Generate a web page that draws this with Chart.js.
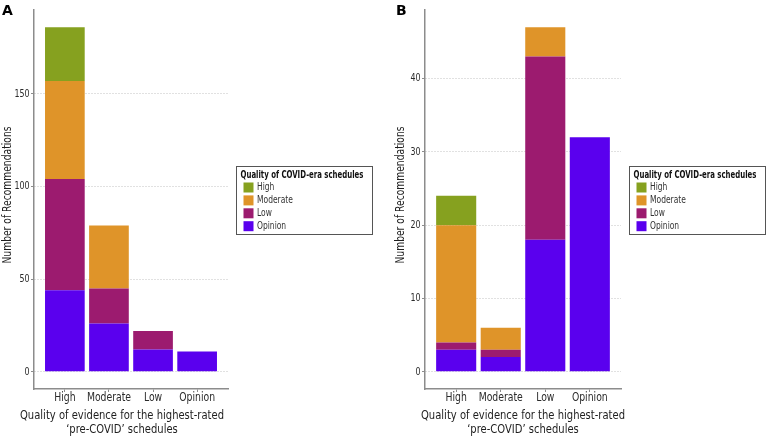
<!DOCTYPE html>
<html lang="en">
<head>
<meta charset="UTF-8" />
<title>Recommendations by quality of evidence</title>
<script src="https://cdn.jsdelivr.net/npm/chart.js"></script>
<style>
    html, body { margin: 0; padding: 0; background: #fff; }
    body { width: 767px; height: 438px; position: relative; overflow: hidden;
           font-family: 'DejaVu Sans Condensed', 'DejaVu Sans', sans-serif; }
    .panel { position: absolute; top: 0; width: 384px; height: 438px; }
    .tag { position: absolute; top: 2px; line-height: 14px; font: bold 14px 'DejaVu Sans', sans-serif; color: #000; }
</style>
</head>
<body>
<div class="panel" style="left:0"><canvas id="chartA" width="384" height="438"></canvas></div>
<div class="panel" style="left:383px"><canvas id="chartB" width="384" height="438"></canvas></div>
<span class="tag" style="left:2px">A</span>
<span class="tag" style="left:396px">B</span>
<script>
// pre-COVID evidence categories (x axis)
const categories = ['High', 'Moderate', 'Low', 'Opinion'];
// COVID-era quality, stacked bottom -> top
const seriesNames = ['Opinion', 'Low', 'Moderate', 'High'];
const seriesColors = ['#5a00ee', '#9c1b6f', '#df9429', '#86a11f'];

// panel A
const aOpinion  = [44, 26, 12, 11];
const aLow      = [60, 19, 10, 0];
const aModerate = [53, 34, 0, 0];
const aHigh     = [29, 0, 0, 0];
const aTicks    = [0, 50, 100, 150];

// panel B
const bOpinion  = [3, 2, 18, 32];
const bLow      = [1, 1, 25, 0];
const bModerate = [16, 3, 4, 0];
const bHigh     = [4, 0, 0, 0];
const bTicks    = [0, 10, 20, 30, 40];

const xTitle = ['Quality of evidence for the highest-rated', '\u2018pre-COVID\u2019 schedules'];
const yTitle = 'Number of Recommendations';
const legendTitle = 'Quality of COVID-era schedules';

const FONT = "'DejaVu Sans Condensed', 'DejaVu Sans', sans-serif";

// the source font is a narrow one, so squeeze text horizontally
function squeezed(ctx, text, x, y, k, rot) {
    ctx.save();
    ctx.translate(x, y);
    ctx.rotate(rot);
    ctx.scale(k, 1);
    ctx.fillText(text, 0, 0);
    ctx.restore();
}

// tick labels, placed with the chart's own scales
const tickLabels = {
    id: 'tickLabels',
    afterDraw(chart) {
        const { ctx } = chart;
        const { x, y } = chart.scales;
        ctx.save();
        ctx.fillStyle = '#2b2b2b';
        ctx.font = '12px ' + FONT;
        ctx.textAlign = 'center';
        ctx.textBaseline = 'alphabetic';
        x.ticks.forEach(t => squeezed(ctx, categories[t.value - 1], x.getPixelForValue(t.value), x.top + 11.5, 0.86, 0));
        ctx.font = '11px ' + FONT;
        ctx.textAlign = 'right';
        ctx.textBaseline = 'middle';
        y.ticks.forEach(t => squeezed(ctx, String(t.value), y.right - 4.5, y.getPixelForValue(t.value), 0.8, 0));
        ctx.restore();
    }
};

const axisTitles = {
    id: 'axisTitles',
    afterDraw(chart, args, opts) {
        const { ctx, chartArea } = chart;
        ctx.save();
        ctx.fillStyle = '#1e1e1e';
        ctx.textAlign = 'center';
        ctx.textBaseline = 'middle';
        ctx.font = '13px ' + FONT;
        let k = Math.min(1, 204 / ctx.measureText(xTitle[0]).width);
        const cx = (chartArea.left + chartArea.right) / 2 + opts.xShift;
        xTitle.forEach((line, i) => squeezed(ctx, line, cx, 416 + i * 14, k, 0));
        k = Math.min(1, 137 / ctx.measureText(yTitle).width);
        squeezed(ctx, yTitle, opts.yTitleX, (chartArea.top + chartArea.bottom) / 2 - 4.5, k, -Math.PI / 2);
        ctx.restore();
    }
};

// boxed legend to the right of the plot, like ggplot
const boxLegend = {
    id: 'boxLegend',
    afterDraw(chart) {
        const { ctx, chartArea } = chart;
        const w = 136, h = 68;
        const x = Math.round(chartArea.right + 8) + 0.5;
        const y = Math.round((chartArea.top + chartArea.bottom) / 2 - h / 2) + 0.5;
        ctx.save();
        ctx.strokeStyle = '#555';
        ctx.lineWidth = 1;
        ctx.strokeRect(x, y, w, h);
        ctx.fillStyle = '#111';
        ctx.textBaseline = 'middle';
        ctx.font = 'bold 11px ' + FONT;
        const k = Math.min(1, 123 / ctx.measureText(legendTitle).width);
        squeezed(ctx, legendTitle, x + 4, y + 8.5, k, 0);
        ctx.font = '10.5px ' + FONT;
        const ds = chart.data.datasets.slice().reverse();
        ds.forEach((d, i) => {
            const cy = y + 21 + i * 12.9;
            ctx.fillStyle = d.backgroundColor;
            ctx.fillRect(x + 7, cy - 5, 10, 10);
            ctx.fillStyle = '#333';
            squeezed(ctx, d.label, x + 20.5, cy, 0.8, 0);
        });
        ctx.restore();
    }
};

function makeChart(id, series, ticks, yWidth, padLeft, padRight, titleOpts) {
    const totals = categories.map((c, i) => series.reduce((s, arr) => s + arr[i], 0));
    const top = Math.max(...totals);
    const expand = top * 0.05;
    return new Chart(document.getElementById(id), {
        type: 'bar',
        data: {
            datasets: series.map((vals, k) => ({
                label: seriesNames[k],
                data: vals.map((v, i) => ({ x: i + 1, y: v })),
                backgroundColor: seriesColors[k],
                borderWidth: 0,
                barPercentage: 0.9,
                categoryPercentage: 1
            }))
        },
        options: {
            responsive: false,
            animation: false,
            layout: { padding: { top: 10, left: padLeft, right: padRight, bottom: 0 } },
            plugins: { legend: { display: false }, tooltip: { enabled: false }, axisTitles: titleOpts },
            scales: {
                x: {
                    type: 'linear',
                    stacked: true,
                    min: 0.3,
                    max: 4.7,
                    offset: false,
                    afterBuildTicks: s => { s.ticks = categories.map((c, i) => ({ value: i + 1 })); },
                    afterFit: s => { s.height = 49; },
                    grid: { display: true, drawOnChartArea: false, offset: false, tickLength: 3, tickColor: '#8c8c8c', tickWidth: 1 },
                    border: { display: true, color: '#8c8c8c', width: 1.5 },
                    ticks: { display: false }
                },
                y: {
                    stacked: true,
                    min: -expand,
                    max: top + expand,
                    afterBuildTicks: s => { s.ticks = ticks.map(v => ({ value: v })); },
                    afterFit: s => { s.width = yWidth; },
                    grid: { color: '#c2c2c2', lineWidth: 1, tickLength: 3, tickColor: '#8c8c8c', tickBorderDash: [] },
                    border: { display: true, color: '#8c8c8c', width: 1.5, dash: [1, 2] },
                    ticks: { display: false }
                }
            }
        },
        plugins: [boxLegend, axisTitles, tickLabels]
    });
}

makeChart('chartA', [aOpinion, aLow, aModerate, aHigh], aTicks, 34, 0, 156, { xShift: -9, yTitleX: 8 });
makeChart('chartB', [bOpinion, bLow, bModerate, bHigh], bTicks, 33, 9, 146, { xShift: 0, yTitleX: 18 });
</script>
</body>
</html>
